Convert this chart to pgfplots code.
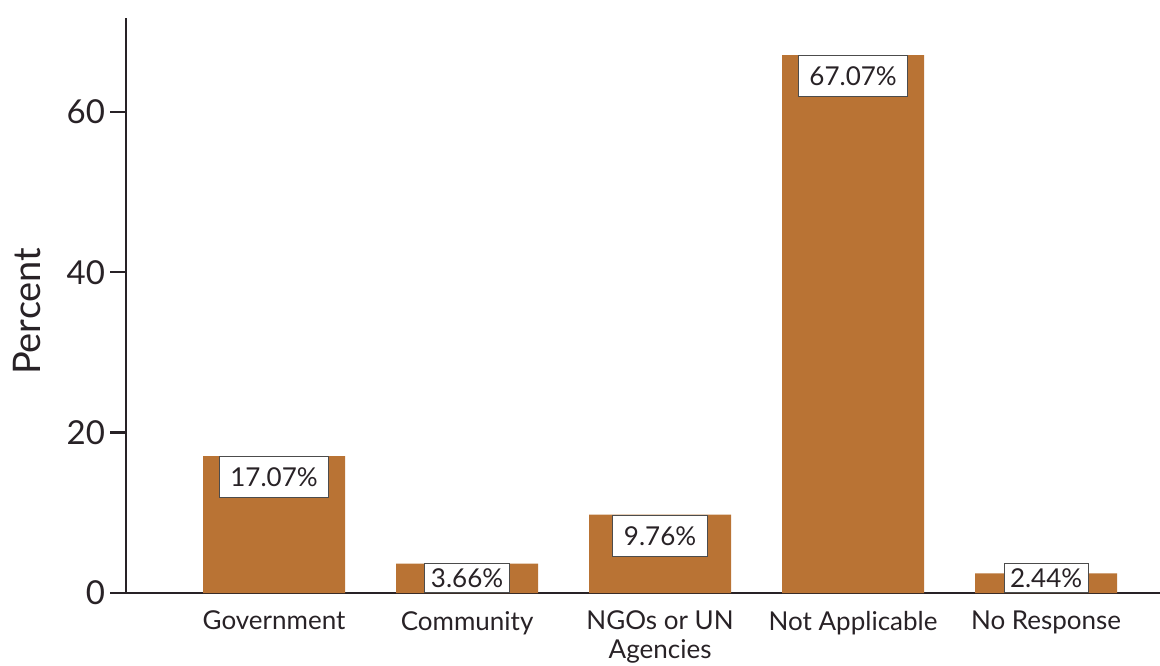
\documentclass[border=0pt]{standalone}
\usepackage{pgfplots}
\pgfplotsset{compat=1.18}
\usepackage{fontspec}
\setmainfont{Lato}
\definecolor{copper}{RGB}{185,115,52}
\definecolor{axisc}{RGB}{40,34,38}
\begin{document}
\begin{tikzpicture}
\path[use as bounding box] (-63pt,-36pt) rectangle (517pt,296.5pt);
\begin{axis}[
 at={(0,0)}, anchor=south west,
 scale only axis, width=517pt, height=287.5pt,
 xmin=-0.767, xmax=4.59, ymin=0, ymax=71.7,
 axis x line*=bottom, axis y line*=left,
 axis line style={axisc, line width=1.4pt},
 ytick={0,20,40,60},
 tick align=outside, major tick length=8pt,
 major tick style={axisc, line width=1.2pt},
 xtick={0,1,2,3,4},
 xticklabels={Government, Community, {NGOs or UN\\Agencies}, Not Applicable, No Response},
 x tick style={draw=none},
 xticklabel style={align=center, font=\fontsize{13}{14.5}\selectfont, text=axisc, yshift=2.5pt},
 yticklabel style={font=\fontsize{16.5}{17}\selectfont, text=axisc, xshift=1pt},
 ylabel={Percent}, ylabel style={at={(axis description cs:-0.0957,0.49)}, anchor=center, font=\fontsize{19}{20}\selectfont, text=axisc},
 /pgf/number format/assume math mode=true,
 clip=false,
]
\addplot[ybar, bar width=0.736, fill=copper, draw=none] coordinates {
 (0,17.07) (1,3.66) (2,9.76) (3,67.07) (4,2.44)};
\addplot[draw=none, mark=none, nodes near coords, point meta=explicit symbolic,
 nodes near coords style={anchor=north, fill=white, draw=black!70, line width=0.5pt,
 font=\fontsize{13}{14}\selectfont, text=axisc, inner xsep=5.5pt, minimum height=20.5pt}]
 coordinates {(0,17.07)[17.07\%] (2,9.76)[9.76\%] (3,67.07)[67.07\%]};
\addplot[draw=none, mark=none, nodes near coords, point meta=explicit symbolic,
 nodes near coords style={anchor=south, fill=white, draw=black!70, line width=0.5pt,
 font=\fontsize{13}{14}\selectfont, text=axisc, inner xsep=3pt, inner ysep=1.5pt, minimum height=14.5pt}]
 coordinates {(1,0)[3.66\%] (4,0)[2.44\%]};
\end{axis}
\end{tikzpicture}
\end{document}
